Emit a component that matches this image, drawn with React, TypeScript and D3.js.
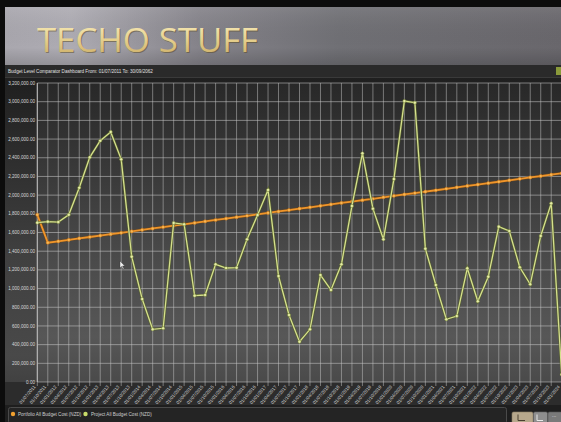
import React from "react";
import * as d3 from "d3";

const categories = [
  "01/07/2011","01/10/2011","01/01/2012","01/04/2012","01/07/2012","01/10/2012",
  "01/01/2013","01/04/2013","01/07/2013","01/10/2013","01/01/2014","01/04/2014",
  "01/07/2014","01/10/2014","01/01/2015","01/04/2015","01/07/2015","01/10/2015",
  "01/01/2016","01/04/2016","01/07/2016","01/10/2016","01/01/2017","01/04/2017",
  "01/07/2017","01/10/2017","01/01/2018","01/04/2018","01/07/2018","01/10/2018",
  "01/01/2019","01/04/2019","01/07/2019","01/10/2019","01/01/2020","01/04/2020",
  "01/07/2020","01/10/2020","01/01/2021","01/04/2021","01/07/2021","01/10/2021",
  "01/01/2022","01/04/2022","01/07/2022","01/10/2022","01/01/2023","01/04/2023",
  "01/07/2023","01/10/2023","01/01/2024",
];

const projectCost = [
  1705000,1716000,1712000,1790000,2079000,2405000,2582000,2676000,2383000,1341000,
  888000,564000,575000,1702000,1688000,924000,931000,1260000,1220000,1223000,
  1527000,1787000,2055000,1134000,717000,431000,564000,1145000,985000,1260000,
  1884000,2448000,1855000,1527000,2172000,3007000,2989000,1427000,1038000,671000,
  706000,1217000,864000,1127000,1662000,1616000,1228000,1046000,1563000,1912000,
  80000,
];

const portfolioCost = [
  1790000,1491000,1506000,1521000,1537000,1552000,1567000,1582000,1597000,1612000,
  1628000,1643000,1658000,1673000,1688000,1703000,1719000,1734000,1749000,1764000,
  1779000,1794000,1810000,1825000,1840000,1855000,1870000,1885000,1901000,1916000,
  1931000,1946000,1961000,1977000,1992000,2007000,2022000,2037000,2052000,2068000,
  2083000,2098000,2113000,2128000,2143000,2159000,2174000,2189000,2204000,2219000,
  2234000,
];

const yTicks = [0,200000,400000,600000,800000,1000000,1200000,1400000,1600000,1800000,2000000,2200000,2400000,2600000,2800000,3000000,3200000];

const legendLabels = ["Portfolio All Budget Cost (NZD)", "Project All Budget Cost (NZD)"];
const titleText = "TECHO STUFF";
const subtitleText = "Budget Level Comparator Dashboard From: 01/07/2011 To: 30/09/2062";

const W = 561, H = 422;
const plot = { left: 37.3, right: 561.7, top: 83, bottom: 382 };

export default function App() {
  const x = d3.scalePoint<string>().domain(categories).range([plot.left, plot.right]);
  const y = d3.scaleLinear().domain([0, 3200000]).range([plot.bottom, plot.top]);
  const fmt = d3.format(",.2f");
  const line = d3.line<number>().x((_, i) => x(categories[i]) as number).y((d) => y(d));

  return (
    <svg width={W} height={H} style={{ position: "fixed", left: 0, top: 0, display: "block" }}
      fontFamily="'Liberation Sans', Arial, sans-serif">
      <defs>
        <linearGradient id="hdr" x1="0" y1="0" x2="1" y2="0">
          <stop offset="0" stopColor="#a9a7ae" />
          <stop offset="0.12" stopColor="#aeacb3" />
          <stop offset="0.35" stopColor="#85838a" />
          <stop offset="0.6" stopColor="#707075" />
          <stop offset="1" stopColor="#69676c" />
        </linearGradient>
        <linearGradient id="hdrV" x1="0" y1="0" x2="0" y2="1">
          <stop offset="0" stopColor="#ffffff" stopOpacity="0.08" />
          <stop offset="0.7" stopColor="#000000" stopOpacity="0" />
          <stop offset="1" stopColor="#000000" stopOpacity="0.15" />
        </linearGradient>
        <linearGradient id="gold" x1="0" y1="0" x2="0" y2="1">
          <stop offset="0" stopColor="#fbf1c4" />
          <stop offset="0.5" stopColor="#e6d08e" />
          <stop offset="1" stopColor="#c4a35a" />
        </linearGradient>
        <linearGradient id="panel" x1="0" y1="0" x2="0" y2="1">
          <stop offset="0" stopColor="#1f1f1f" />
          <stop offset="0.55" stopColor="#404040" />
          <stop offset="0.85" stopColor="#494949" />
          <stop offset="1" stopColor="#3a3a3a" />
        </linearGradient>
        <linearGradient id="plotbg" x1="0" y1="0" x2="0" y2="1">
          <stop offset="0" stopColor="#282828" />
          <stop offset="0.6" stopColor="#4b4b4b" />
          <stop offset="0.85" stopColor="#575757" />
          <stop offset="1" stopColor="#4a4a4a" />
        </linearGradient>
      </defs>

      <rect x={0} y={0} width={W} height={H} fill="#0c0c0c" />
      {/* header */}
      <rect x={5} y={7} width={W - 5} height={58} fill="url(#hdr)" />
      <rect x={5} y={7} width={W - 5} height={58} fill="url(#hdrV)" />
      <text x={37} y={52} fontFamily="'Open Sans', sans-serif" fontSize={33} fill="#5a4a20" opacity={0.5}
        textLength={221} lengthAdjust="spacingAndGlyphs" dx={1} dy={1}>{titleText}</text>
      <text x={37} y={52} fontFamily="'Open Sans', sans-serif" fontSize={33} fill="url(#gold)"
        textLength={221} lengthAdjust="spacingAndGlyphs">{titleText}</text>

      {/* subtitle bar */}
      <rect x={5} y={65} width={W - 5} height={12} fill="#2a2a2a" />
      <text x={8} y={72.5} fontSize={4.6} fill="#e0e0e0">{subtitleText}</text>
      <rect x={556} y={67} width={5} height={8} fill="#8a9a3a" />

      {/* chart panel */}
      <rect x={5} y={77} width={W - 5} height={328} fill="url(#panel)" />
      <rect x={5} y={77} width={W - 5} height={1} fill="#3a3a3a" />
      <rect x={plot.left} y={plot.top} width={W - plot.left} height={plot.bottom - plot.top} fill="url(#plotbg)" />
      <rect x={5} y={plot.bottom} width={W - 5} height={405 - plot.bottom} fill="#2c2c2c" />

      {/* horizontal grid */}
      {yTicks.map((t) => (
        <line key={"h" + t} x1={plot.left} x2={W} y1={y(t)} y2={y(t)} stroke="#c8c8c8" strokeOpacity={0.55} strokeWidth={1} />
      ))}
      {/* vertical grid */}
      {categories.map((c) => (
        <line key={"v" + c} x1={x(c)} x2={x(c)} y1={plot.top} y2={plot.bottom + 4} stroke="#c8c8c8" strokeOpacity={0.5} strokeWidth={1} />
      ))}
      <line x1={plot.left} x2={plot.left} y1={plot.top} y2={plot.bottom} stroke="#bbbbbb" strokeWidth={1} />

      {/* y labels */}
      {yTicks.map((t) => (
        <text key={"yl" + t} x={35} y={y(t) + 1.6} textAnchor="end" fontSize={4.6} fill="#d8d8d8">{fmt(t)}</text>
      ))}
      {/* x labels */}
      {categories.map((c) => (
        <text key={"xl" + c} transform={`translate(${(x(c) as number) - 1.5},${plot.bottom + 5}) rotate(-50)`}
          textAnchor="end" fontSize={4.6} fill="#d0d0d0">{c}</text>
      ))}

      {/* orange series */}
      <path d={line(portfolioCost) as string} fill="none" stroke="#7a4a10" strokeWidth={3} strokeOpacity={0.6} />
      <path d={line(portfolioCost) as string} fill="none" stroke="#f0952a" strokeWidth={1.8} />
      {portfolioCost.map((v, i) => (
        <circle key={"po" + i} cx={x(categories[i])} cy={y(v)} r={1.6} fill="#f7b855" stroke="#c86e10" strokeWidth={0.5} />
      ))}

      {/* green series */}
      <path d={line(projectCost) as string} fill="none" stroke="#56612a" strokeWidth={2.6} strokeOpacity={0.8} />
      <path d={line(projectCost) as string} fill="none" stroke="#d6e08e" strokeWidth={1.3} />
      {projectCost.map((v, i) => (
        <circle key={"pr" + i} cx={x(categories[i])} cy={y(v)} r={1.6} fill="#e6eda8" stroke="#6d7a2e" strokeWidth={0.5} />
      ))}

      {/* mouse cursor */}
      <path d="M120,261 l0,7 l1.6,-1.6 l1.4,2.8 l0.9,-0.5 l-1.4,-2.7 l2.3,0 z" fill="#f2f2f2" stroke="#333" strokeWidth={0.4} />

      {/* legend */}
      <rect x={5} y={405} width={W - 5} height={17} fill="#1e1e1e" />
      <rect x={8.5} y={407.5} width={498} height={16} rx={2} fill="#242424" stroke="#4a4a4a" strokeWidth={1} />
      <circle cx={13} cy={414} r={2.2} fill="#f0a030" />
      <text x={18} y={415.6} fontSize={4.6} fill="#cfcfcf">{legendLabels[0]}</text>
      <circle cx={85.5} cy={414} r={2.2} fill="#c9dc6a" />
      <text x={91} y={415.6} fontSize={4.6} fill="#cfcfcf">{legendLabels[1]}</text>

      {/* buttons */}
      <rect x={512} y={412} width={21} height={11} rx={1.5} fill="#b7a88c" stroke="#8a7c62" strokeWidth={0.6} />
      <path d="M518,414.5 v6 h7" fill="none" stroke="#4a4030" strokeWidth={1} />
      <rect x={533.5} y={412} width={14} height={11} rx={1.5} fill="#8e8e8e" stroke="#666" strokeWidth={0.6} />
      <path d="M537,414.5 v6 h6" fill="none" stroke="#e8e8e8" strokeWidth={1} />
      <rect x={548} y={412} width={14} height={11} rx={1.5} fill="#7a7a7a" stroke="#555" strokeWidth={0.6} />
      <text x={552} y={416.5} fontSize={5} fill="#e8e8e8">...</text>
    </svg>
  );
}
